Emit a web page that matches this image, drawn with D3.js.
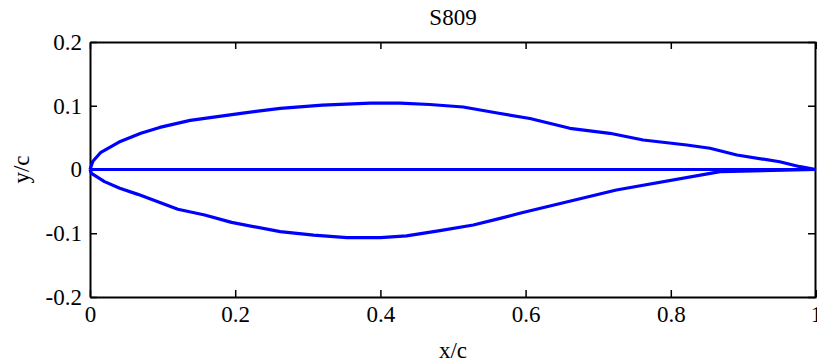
<!DOCTYPE html>
<html>
<head>
<meta charset="utf-8">
<script src="https://cdn.jsdelivr.net/npm/d3@7"></script>
<style>
  body { margin: 0; background: #fff; }
  svg { display: block; }
</style>
</head>
<body>
<div id="chart"></div>
<script>
// S809 profile
const upperX = [0, 0.004, 0.015, 0.04, 0.07, 0.096, 0.138, 0.208, 0.262, 0.32, 0.386, 0.427, 0.468, 0.514, 0.561, 0.606, 0.661, 0.716, 0.762, 0.822, 0.854, 0.891, 0.95, 0.978, 1];
const upperY = [0, 0.013, 0.027, 0.043, 0.057, 0.066, 0.077, 0.088, 0.096, 0.101, 0.104, 0.104, 0.102, 0.098, 0.0886, 0.080, 0.0646, 0.0568, 0.0463, 0.0384, 0.0333, 0.0227, 0.0122, 0.0044, 0];

const lowerX = [0, 0.002, 0.02, 0.041, 0.066, 0.121, 0.158, 0.195, 0.262, 0.308, 0.354, 0.40, 0.436, 0.482, 0.528, 0.565, 0.592, 0.725, 0.868, 1];
const lowerY = [0, -0.006, -0.019, -0.0295, -0.039, -0.0624, -0.0714, -0.083, -0.0975, -0.103, -0.107, -0.107, -0.104, -0.096, -0.087, -0.0766, -0.0687, -0.0322, -0.0034, 0];

const chordX = [0, 1];
const chordY = [0, 0];

const xTicks = [0, 0.2, 0.4, 0.6, 0.8, 1];
const yTicks = [-0.2, -0.1, 0, 0.1, 0.2];

const W = 817, H = 364;
const margin = { top: 42, right: 1, bottom: 67, left: 90 };
const w = W - margin.left - margin.right;
const h = H - margin.top - margin.bottom;
const FONT = "'Liberation Serif', 'Times New Roman', Times, serif";

const svg = d3.select("#chart").append("svg")
  .attr("width", W)
  .attr("height", H);

const x = d3.scaleLinear().domain([0, 1]).range([margin.left, margin.left + w]);
const y = d3.scaleLinear().domain([-0.2, 0.2]).range([margin.top + h, margin.top]);

const fmt = d => d === 0 ? "0" : String(d);

// axes, ticks pointing inward like matlab
const styleAxis = g => {
  g.attr("font-family", null).attr("font-size", null);
  g.select(".domain").attr("stroke", "#000").attr("stroke-width", 2);
  g.selectAll(".tick line").attr("stroke", "#000").attr("stroke-width", 1.5);
  g.selectAll(".tick text")
    .style("font-family", FONT)
    .style("font-size", "23px")
    .attr("fill", "#000");
};

svg.append("g")
  .attr("transform", "translate(0," + (margin.top + h) + ")")
  .call(d3.axisBottom(x).tickValues(xTicks).tickFormat(fmt).tickSize(-7).tickSizeOuter(0).tickPadding(9))
  .call(styleAxis);

svg.append("g")
  .attr("transform", "translate(0," + margin.top + ")")
  .call(d3.axisTop(x).tickValues(xTicks).tickFormat("").tickSize(-7).tickSizeOuter(0))
  .call(styleAxis);

svg.append("g")
  .attr("transform", "translate(" + margin.left + ",0)")
  .call(d3.axisLeft(y).tickValues(yTicks).tickFormat(fmt).tickSize(-7).tickSizeOuter(0).tickPadding(8))
  .call(styleAxis);

svg.append("g")
  .attr("transform", "translate(" + (margin.left + w - 1) + ",0)")
  .call(d3.axisRight(y).tickValues(yTicks).tickFormat("").tickSize(-7).tickSizeOuter(0))
  .call(styleAxis);

// curves
const line = d3.line().x(d => x(d[0])).y(d => y(d[1]));
const series = [
  d3.zip(upperX, upperY),
  d3.zip(lowerX, lowerY),
  d3.zip(chordX, chordY)
];
svg.selectAll("path.foil")
  .data(series)
  .enter()
  .append("path")
  .attr("class", "foil")
  .attr("d", line)
  .attr("fill", "none")
  .attr("stroke", "#0000ff")
  .attr("stroke-width", 3.2)
  .attr("stroke-linejoin", "round");

// labels
const label = (tx, ty, txt, rot) => svg.append("text")
  .attr("transform", "translate(" + tx + "," + ty + ")" + (rot ? " rotate(-90)" : ""))
  .attr("text-anchor", "middle")
  .style("font-family", FONT)
  .style("font-size", "23px")
  .attr("fill", "#000")
  .text(txt);

label(margin.left + w / 2, 25, "S809");
label(margin.left + w / 2, 358, "x/c");
label(29, margin.top + h / 2, "y/c", true);
</script>
</body>
</html>
